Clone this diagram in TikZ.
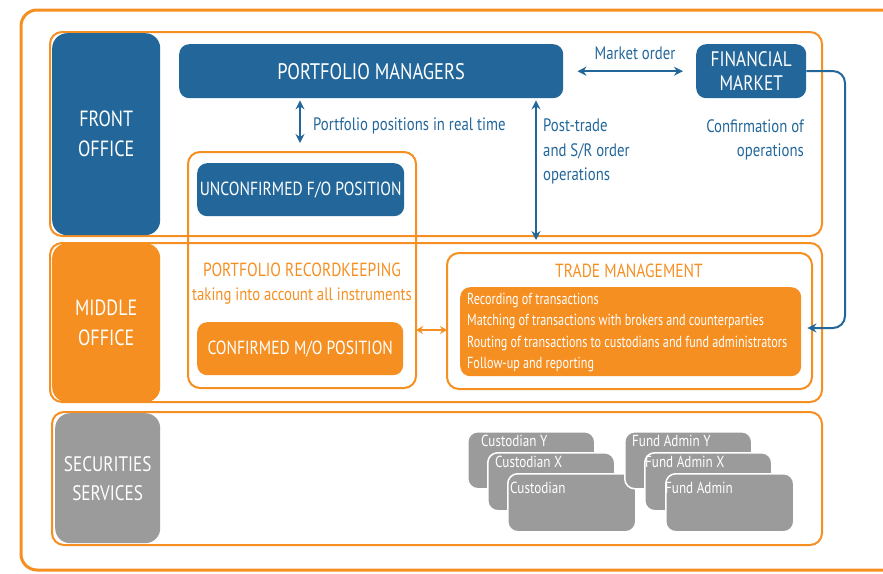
\documentclass[tikz,border=0pt]{standalone}
\usepackage{fontspec}
\setmainfont{PT Sans}[FakeStretch=0.82]
\newfontfamily\narrowfont{PT Sans}[FakeStretch=0.76]
\usetikzlibrary{arrows.meta,calc}
\definecolor{fblue}{HTML}{23679A}
\definecolor{forange}{HTML}{F58F22}
\definecolor{fgray}{HTML}{9B9B9B}
\newcommand\fsz[2]{\fontsize{#1}{#2}\selectfont}
\begin{document}
\begin{tikzpicture}[x=1pt,y=-1pt,
  frame/.style={draw=forange, line width=2pt, rounded corners=12pt},
  outerframe/.style={draw=forange, line width=3pt, rounded corners=16pt},
  boxbase/.style={rounded corners=10pt, inner sep=0pt, text=white, align=center, anchor=north west},
  bluebox/.style={boxbase, fill=fblue},
  orangebox/.style={boxbase, fill=forange},
  office/.style={boxbase, rounded corners=15pt, font=\fsz{22}{30}},
  graybox/.style={boxbase, fill=fgray, draw=white, line width=1.5pt, rounded corners=10pt},
  graylbl/.style={text=white, anchor=west, inner sep=0pt, font=\fsz{16}{18}},
  bluetxt/.style={text=fblue, inner sep=0pt, font=\fsz{18}{24.5}},
  orangetxt/.style={text=forange, inner sep=0pt},
  barrow/.style={draw=fblue, line width=2pt, {Stealth[length=9pt,width=9pt]}-{Stealth[length=9pt,width=9pt]}},
  oarrow/.style={draw=forange, line width=2pt, {Stealth[length=7pt,width=8pt]}-{Stealth[length=7pt,width=8pt]}},
]
\useasboundingbox (0,0) rectangle (883,573);
% outer frame
\draw[outerframe] (21,10) rectangle (910,570);
% row frames
\draw[frame] (50,32) rectangle (822,236);
\draw[frame] (50,243) rectangle (822,402);
\draw[frame] (52,412) rectangle (822,545);
% office boxes
\node[office, fill=fblue, minimum width=108pt, minimum height=202pt] (fo) at (52,33) {FRONT\\OFFICE};
\node[office, fill=forange, minimum width=108pt, minimum height=159pt] (mo) at (52,243) {MIDDLE\\OFFICE};
\node[office, fill=fgray, minimum width=105pt, minimum height=130pt, font=\fsz{21}{29}] (ss) at (55,413) {SECURITIES\\SERVICES};
% front office
\node[bluebox, minimum width=384pt, minimum height=54pt, font=\fsz{22.5}{24}] (pm) at (179,44) {PORTFOLIO MANAGERS};
\node[bluebox, minimum width=110pt, minimum height=54pt, font=\fsz{21}{24}] (fm) at (696,44) {FINANCIAL\\MARKET};
\draw[barrow, shorten <=14pt, shorten >=13pt] (pm.east) -- (fm.west);
\node[bluetxt] (mkt) at (635,53) {Market order};
% recordkeeping frame
\draw[frame] (188,152) rectangle (416,388);
\node[bluebox, minimum width=207pt, minimum height=53pt, font=\fsz{19}{22}] (ufo) at (197,163) {UNCONFIRMED F/O POSITION};
\coordinate (pptop) at (300,143);
\draw[barrow, shorten <=2pt] (pm.south -| pptop) -- (pptop);
\node[bluetxt, anchor=west] (pplbl) at (313,126) {Portfolio positions in real time};
\coordinate (ptbot) at (536,240);
\draw[barrow, shorten <=2pt] (pm.south -| ptbot) -- (ptbot);
\node[bluetxt, anchor=north west, align=left] (ptlbl) at (543,119) {Post-trade\\and S/R order\\operations};
\node[bluetxt, anchor=north east, align=right] (conf) at (804,119) {Confirmation of\\operations};
% middle office
\node[orangetxt, font=\fsz{19}{22}] (rkt) at (302,270) {PORTFOLIO RECORDKEEPING};
\node[orangetxt, font=\fsz{18}{22}] (rks) at (302,296) {taking into account all instruments};
\node[orangebox, minimum width=206pt, minimum height=53pt, font=\fsz{19}{22}] (cmo) at (197,322) {CONFIRMED M/O POSITION};
\draw[frame] (447,253) rectangle (812,389);
\coordinate (tmw) at (447,330);
\coordinate (rke) at (416,330);
\draw[oarrow] (rke) -- (tmw);
\node[orangetxt, font=\fsz{19}{22}] (tmt) at (629,271) {TRADE MANAGEMENT};
\node[orangebox, minimum width=341pt, minimum height=89pt] (tml) at (460,287) {};
\node[text=white, anchor=north west, align=left, inner sep=0pt, font=\narrowfont\fsz{16}{21.3}] (tmtext) at (467,293) {Recording of transactions\\Matching of transactions with brokers and counterparties\\Routing of transactions to custodians and fund administrators\\Follow-up and reporting};
% blue loop connector
\draw[draw=fblue, line width=2pt, rounded corners=12pt, -{Stealth[length=9pt,width=9pt]}] (fm.east) -- (845,71) -- (845,328) -- ($(tml.east |- 0,328)+(6,0)$);
% securities services
\node[graybox, minimum width=127pt, minimum height=57pt] (cy) at (467,431) {};
\node[graylbl] (cyl) at ($(cy.north west)+(14,10)$) {Custodian Y};
\node[graybox, minimum width=127pt, minimum height=58pt] (cx) at (487,452) {};
\node[graylbl] (cxl) at ($(cx.north west)+(8,10)$) {Custodian X};
\node[graybox, minimum width=128pt, minimum height=58pt] (cu) at (507,473) {};
\node[graylbl] (cul) at ($(cu.north west)+(3,15)$) {Custodian};
\node[graybox, minimum width=127pt, minimum height=57pt] (fy) at (624,431) {};
\node[graylbl] (fyl) at ($(fy.north west)+(8,10)$) {Fund Admin Y};
\node[graybox, minimum width=127pt, minimum height=58pt] (fx) at (644,452) {};
\node[graylbl] (fxl) at ($(fx.north west)+(1,10)$) {Fund Admin X};
\node[graybox, minimum width=128pt, minimum height=58pt] (fa) at (665,473) {};
\node[graylbl] (fal) at ($(fa.north west)+(0,15)$) {Fund Admin};
\end{tikzpicture}
\end{document}
